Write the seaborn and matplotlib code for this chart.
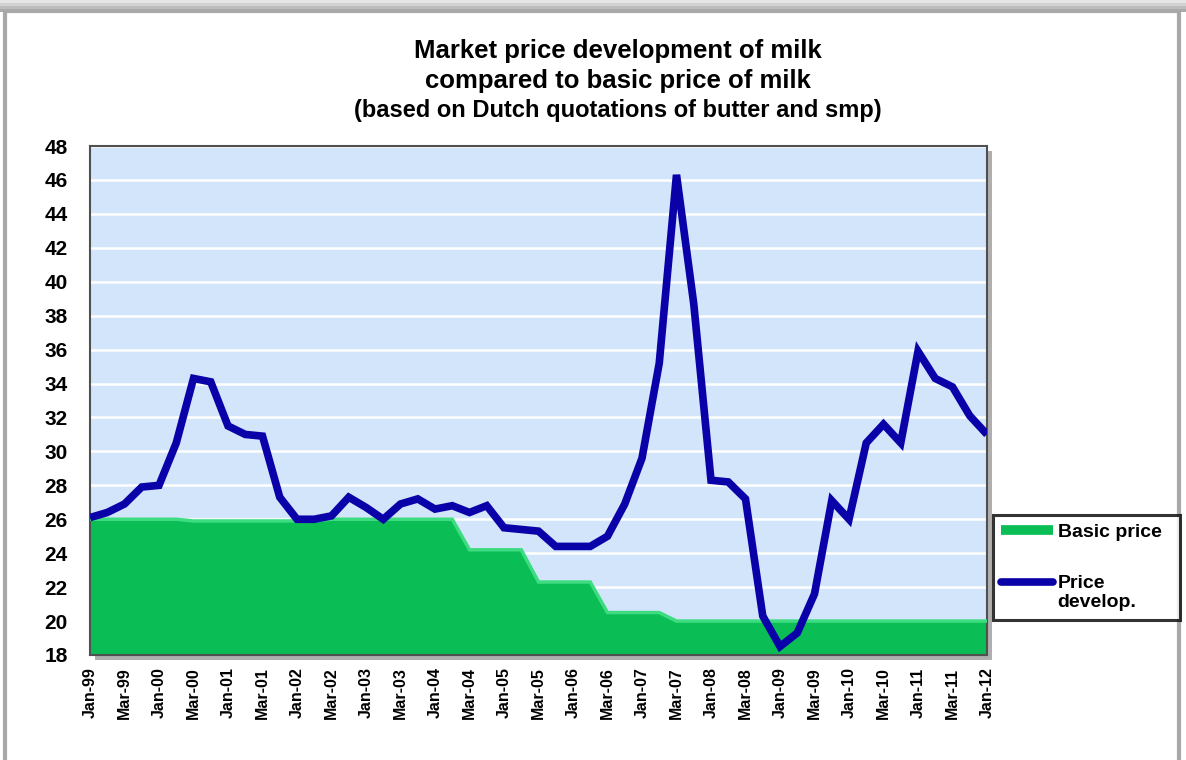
import numpy as np
import matplotlib
matplotlib.use("Agg")
import matplotlib.pyplot as plt
import seaborn as sns
from matplotlib.patches import FancyBboxPatch, Rectangle
from matplotlib.lines import Line2D
from matplotlib.legend_handler import HandlerLine2D

# ---------------- data ----------------
tick_labels = ["Jan-99", "Mar-99", "Jan-00", "Mar-00", "Jan-01", "Mar-01", "Jan-02",
               "Mar-02", "Jan-03", "Mar-03", "Jan-04", "Mar-04", "Jan-05", "Mar-05",
               "Jan-06", "Mar-06", "Jan-07", "Mar-07", "Jan-08", "Mar-08", "Jan-09",
               "Mar-09", "Jan-10", "Mar-10", "Jan-11", "Mar-11", "Jan-12"]

price_develop = [26.1, 26.4, 26.9, 27.9, 28.0, 30.5, 34.3, 34.1, 31.5, 31.0,
                 30.9, 27.3, 26.0, 26.0, 26.2, 27.3, 26.7, 26.0, 26.9, 27.2,
                 26.6, 26.8, 26.4, 26.8, 25.5, 25.4, 25.3, 24.4, 24.4, 24.4,
                 25.0, 26.9, 29.6, 35.2, 46.3, 38.7, 28.3, 28.2, 27.2, 20.3,
                 18.5, 19.3, 21.6, 27.1, 26.0, 30.5, 31.6, 30.5, 35.9, 34.3,
                 33.8, 32.1, 31.0]

basic_price = [26.0, 26.0, 26.0, 26.0, 26.0, 26.0, 25.9, 25.9, 25.9, 25.9,
               25.9, 25.9, 25.9, 25.9, 26.0, 26.0, 26.0, 26.0, 26.0, 26.0,
               26.0, 26.0, 24.2, 24.2, 24.2, 24.2, 22.3, 22.3, 22.3, 22.3,
               20.5, 20.5, 20.5, 20.5, 20.0, 20.0, 20.0, 20.0, 20.0, 20.0,
               20.0, 20.0, 20.0, 20.0, 20.0, 20.0, 20.0, 20.0, 20.0, 20.0,
               20.0, 20.0, 20.0]

series_names = ["Basic price", "Price\ndevelop."]
title_lines = ["Market price development of milk",
               "compared to basic price of milk",
               "(based on Dutch quotations of butter and smp)"]

# ---------------- style ----------------
sns.set_theme(style="white")
plt.rcParams["font.family"] = ["Liberation Sans", "DejaVu Sans"]
plt.rcParams["font.weight"] = "bold"
for k in ["text.color", "axes.labelcolor", "xtick.color", "ytick.color"]:
    plt.rcParams[k] = "black"

x = np.arange(len(price_develop))

fig = plt.figure(figsize=(11.86, 7.60), dpi=100)
fig.patch.set_facecolor("white")

# outer frame
frame = FancyBboxPatch((0.004, -0.02), 0.990, 1.005, boxstyle="square,pad=0",
                       transform=fig.transFigure, facecolor="white",
                       edgecolor="#a8a8a8", linewidth=3, zorder=-10)
fig.patches.append(frame)
for i, c in enumerate(["#e6e6e6", "#d2d2d2", "#bdbdbd", "#a9a9a9"]):
    band = Rectangle((0.0, 1 - (i + 1) * 0.004), 1.0, 0.004, transform=fig.transFigure,
                     facecolor=c, edgecolor="none", zorder=-9)
    fig.patches.append(band)

ax_l, ax_b, ax_w, ax_h = 90/1186, 1-655/760, (987-90)/1186, (655-146)/760
# plot area shadow
shadow = Rectangle((ax_l + 0.004, ax_b - 0.006), ax_w, ax_h, transform=fig.transFigure,
                   facecolor="#7a7a7a", edgecolor="none", zorder=-5, alpha=0.6)
fig.patches.append(shadow)

ax = fig.add_axes([ax_l, ax_b, ax_w, ax_h])
ax.set_facecolor("#d2e5fa")

ax.fill_between(x, 0, basic_price, color="#0abd55", zorder=2, linewidth=0)
sns.lineplot(x=x, y=basic_price, ax=ax, color="#3ddc80", linewidth=2.5, zorder=3,
             legend=False)
sns.lineplot(x=x, y=price_develop, ax=ax, color="#0a02a8", linewidth=5.5, zorder=5,
             legend=False)
for l in ax.lines:
    l.set_solid_capstyle("butt")
    l.set_solid_joinstyle("miter")

ax.set_xlim(0, len(x) - 1)
ax.set_ylim(18, 48)
ax.set_yticks(np.arange(18, 49, 2))
ax.set_yticklabels([str(v) for v in range(18, 49, 2)], fontsize=15, fontweight="bold")
ax.set_xticks(np.arange(0, len(x), 2))
ax.set_xticklabels(tick_labels, rotation=90, fontsize=11.5, fontweight="bold")
ax.tick_params(axis="y", length=0, pad=16, colors="black")
ax.tick_params(axis="x", length=0, pad=9, colors="black")
ax.yaxis.grid(True, color="white", linewidth=1.8, zorder=1)
ax.set_axisbelow(True)
for s in ax.spines.values():
    s.set_color("#505050")
    s.set_linewidth(1.5)
ax.set_xlabel("")
ax.set_ylabel("")

# title
fig.text(0.521, 0.933, title_lines[0], ha="center", va="center", fontsize=18.5,
         fontweight="bold")
fig.text(0.521, 0.893, title_lines[1], ha="center", va="center", fontsize=18.5,
         fontweight="bold")
fig.text(0.521, 0.854, title_lines[2], ha="center", va="center", fontsize=17,
         fontweight="bold")


# legend
class ShiftedHandler(HandlerLine2D):
    def __init__(self, dy=0.0, **kw):
        super().__init__(**kw)
        self.dy = dy

    def create_artists(self, legend, orig_handle, xdescent, ydescent, width, height,
                       fontsize, trans):
        arts = super().create_artists(legend, orig_handle, xdescent, ydescent, width,
                                      height, fontsize, trans)
        for a in arts:
            a.set_ydata(np.asarray(a.get_ydata(), dtype=float) + self.dy)
        return arts


h_basic = Line2D([0], [0], color="#0abd55", linewidth=7, solid_capstyle="butt")
h_price = Line2D([0], [0], color="#0a02a8", linewidth=5.5, solid_capstyle="round")
leg = fig.legend([h_basic, h_price], series_names, loc="upper left",
                 bbox_to_anchor=(993/1186, 1-515/760 - 0.01, 187/1186, 0.01),
                 mode="expand", frameon=True, fancybox=False,
                 prop={"weight": "bold", "size": 14}, handlelength=2.65,
                 handletextpad=0.25, labelspacing=1.75, borderpad=0.42,
                 borderaxespad=0,
                 handler_map={h_price: ShiftedHandler(dy=8.0)})
leg.get_frame().set_edgecolor("black")
leg.get_frame().set_linewidth(2.2)

fig.savefig("out.png", dpi=100, facecolor="white")
